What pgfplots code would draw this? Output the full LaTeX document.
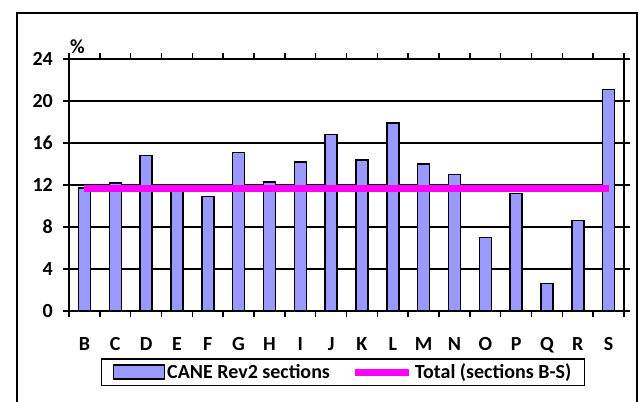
\documentclass[border=0pt]{standalone}
\usepackage{pgfplots}
\pgfplotsset{compat=1.18}
\usepackage{fontspec}
\setmainfont{Carlito}
\definecolor{barcol}{HTML}{9999FF}
\definecolor{totcol}{HTML}{FF00FF}
\begin{document}
\begin{tikzpicture}[x=1bp,y=1bp]
\draw[line width=2bp] (17,-10) -- (17,388) -- (637,388) -- (637,-10);
\begin{axis}[
  at={(69bp,90bp)}, anchor=south west,
  scale only axis, width=555bp, height=252bp,
  xmin=-0.5, xmax=17.5, ymin=0, ymax=24,
  font=\fontsize{20bp}{24bp}\selectfont\bfseries,
  /pgf/number format/assume math mode=true,
  axis line style={line width=1.5bp},
  ytick={0,4,...,24},
  ymajorgrids, grid style={black, line width=1.3bp},
  tick align=outside, major tick length=6bp,
  tick style={black, line width=1.5bp},
  xtick={-0.5,0.5,...,17.5}, xticklabels={},
  extra x ticks={0,1,...,17},
  extra x tick labels={B,C,D,E,F,G,H,I,J,K,L,M,N,O,P,Q,R,S},
  extra x tick style={major tick length=0pt, grid=none,
     xticklabel style={anchor=base, yshift=-39bp}},
  yticklabel style={anchor=east, inner sep=0pt, xshift=-10bp},
  ylabel={\%},
  every axis y label/.style={at={(rel axis cs:0,1)}, anchor=base west, inner sep=0pt, yshift=6bp, xshift=1bp},
  legend style={at={(0.4937,-0.243)}, anchor=center, draw=black, line width=1.5bp,
     legend columns=2, inner xsep=11bp, inner ysep=3bp,
     /tikz/every even column/.append style={column sep=20bp},
     font=\fontsize{20bp}{24bp}\selectfont\bfseries},
]
\addplot[ybar, bar width=12bp, fill=barcol, draw=black, line width=1.5bp,
  legend image code/.code={\draw[fill=barcol,draw=black,line width=1.5bp] (0bp,-7bp) rectangle (51bp,7bp);}]
 coordinates {(0,11.7) (1,12.2) (2,14.8) (3,11.6) (4,10.9) (5,15.1) (6,12.3) (7,14.2) (8,16.8) (9,14.4) (10,17.9) (11,14.0) (12,13.0) (13,7.0) (14,11.2) (15,2.6) (16,8.6) (17,21.1)};
\addlegendentry{CANE Rev2 sections}
\addplot[color=totcol, line width=7bp, no marks,
  legend image code/.code={\draw[color=totcol,line width=7bp] (0bp,0bp) -- (54bp,0bp);}]
 coordinates {(0,11.7) (17,11.7)};
\addlegendentry{Total (sections B-S)}
\end{axis}
\pgfresetboundingbox
\path[use as bounding box] (0,0) rectangle (640,401);
\end{tikzpicture}
\end{document}
